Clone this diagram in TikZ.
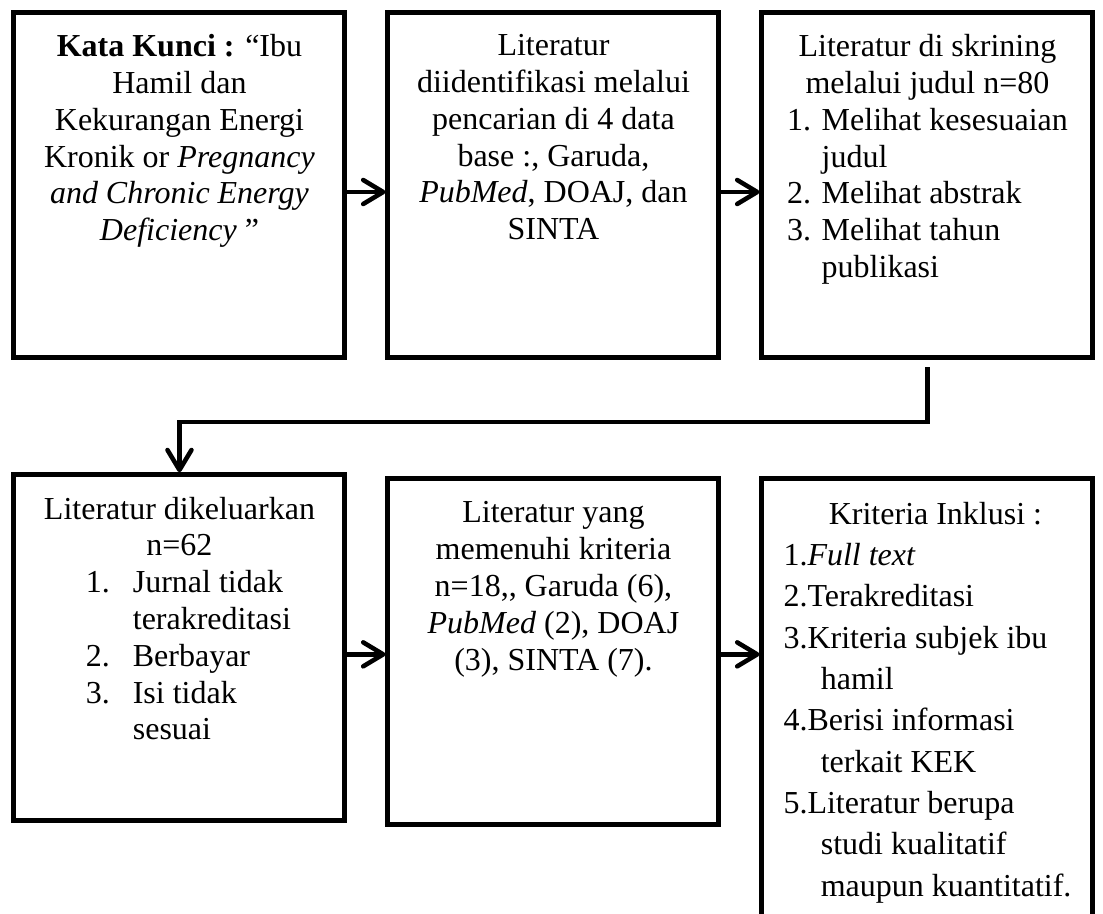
\documentclass[tikz,border=0pt]{standalone}
\usepackage{fontspec}
\setmainfont{Liberation Serif}
\usetikzlibrary{positioning,arrows.meta}

\begin{document}
\begin{tikzpicture}[node distance=14.25pt, line width=1.875pt,
    box/.style={draw, rectangle, minimum width=124.125pt, minimum height=129.5pt, inner sep=0pt},
    openbox/.style={box, minimum height=180pt},
    txt/.style={align=center, inner sep=0pt, font=\fontsize{12}{13.8}\selectfont},
    arr/.style={-{Straight Barb[length=7.5pt, width=9pt, round]}, line width=1.7pt}]
    \useasboundingbox (0,0) rectangle (413.625pt,-342.375pt);
    \clip (0,0) rectangle (413.625pt,-342.375pt);

    % Nodes
    \node[box] (keyword) at (67.3pt,-69.4pt) {};
    \node[box, right=of keyword] (search) {};
    \node[box, right=of search] (screen) {};
    \node[box, below=42pt of keyword] (excluded) {};
    \node[box, right=of excluded, yshift=-1.5pt] (eligible) {};
    \node[openbox, right=of eligible.north east, anchor=north west] (inclusion) {};

    % Texts
    \node[txt, below=8.3pt of keyword.north] (keyword-txt) {\textbf{Kata Kunci :} “Ibu\\ Hamil dan\\ Kekurangan Energi\\ Kronik or \textit{Pregnancy}\\ \textit{and Chronic Energy}\\ \textit{Deficiency} ”};
    \node[txt, below=8.3pt of search.north] (search-txt) {Literatur\\ diidentifikasi melalui\\ pencarian di 4 data\\ base :, Garuda,\\ \textit{PubMed}, DOAJ, dan\\ SINTA};
    \node[txt, below=8.3pt of screen.north] (screen-txt) {Literatur di skrining\\ melalui judul n=80\\
      \begin{tabular}[t]{@{}l@{}}
        1. Melihat kesesuaian\\ \hspace{13pt}judul\\ 2. Melihat abstrak\\ 3. Melihat tahun\\ \hspace{13pt}publikasi
      \end{tabular}};
    \node[txt, below=8.3pt of excluded.north] (excluded-txt) {Literatur dikeluarkan\\ n=62\\
      \begin{tabular}[t]{@{\hspace{6.75pt}}p{17.6pt}@{}l@{}}
        1. & Jurnal tidak\\ & terakreditasi\\ 2. & Berbayar\\ 3. & Isi tidak\\ & sesuai
      \end{tabular}};
    \node[txt, below=8.6pt of eligible.north] (eligible-txt) {Literatur yang\\ memenuhi kriteria\\ n=18,\kern0pt, Garuda (6),\\ \textit{PubMed} (2), DOAJ\\ (3), SINTA (7).};
    \node[txt, font=\fontsize{12}{15.5}\selectfont, below=8.7pt of inclusion.north] (inclusion-txt) {\hspace*{6pt}Kriteria Inklusi :\\
      \begin{tabular}[t]{@{}l@{}}
        1.\textit{Full text}\\ 2.Terakreditasi\\ 3.Kriteria subjek ibu\\ \hspace{14pt}hamil\\ 4.Berisi informasi\\ \hspace{14pt}terkait KEK\\ 5.Literatur berupa\\ \hspace{14pt}studi kualitatif\\ \hspace{14pt}maupun kuantitatif.
      \end{tabular}};

    % Edges
    \draw[arr] ([yshift=-2.6pt]keyword.east) -- ([yshift=-2.6pt]search.west);
    \draw[arr] ([yshift=-2.6pt]search.east) -- ([yshift=-2.6pt]screen.west);
    \draw[arr] ([yshift=-2.6pt]screen.south) -- ++(0,-20.6pt) -| (excluded.north);
    \draw[arr] ([yshift=-2.6pt]excluded.east) -- ([yshift=-2.6pt]excluded.east -| eligible.west);
    \draw[arr] ([yshift=-2.6pt]excluded.east -| eligible.east) -- ([yshift=-2.6pt]excluded.east -| inclusion.west);
\end{tikzpicture}
\end{document}
